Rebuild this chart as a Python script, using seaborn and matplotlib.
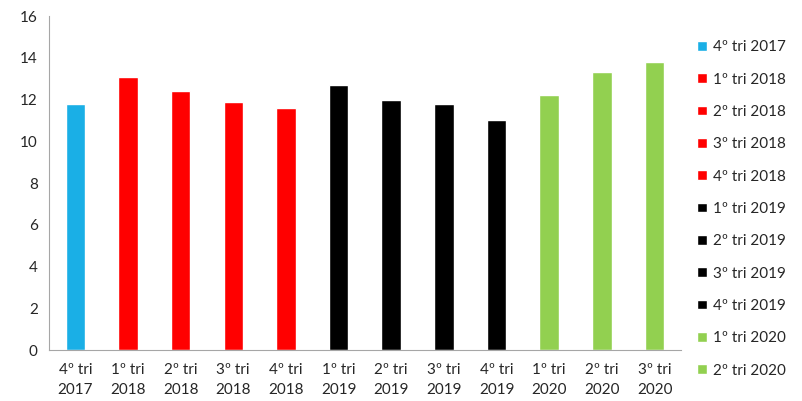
import matplotlib
matplotlib.use('Agg')
import matplotlib.pyplot as plt
from matplotlib.patches import Patch
import seaborn as sns
import numpy as np

quarters = ['4º tri 2017', '1º tri 2018', '2º tri 2018', '3º tri 2018', '4º tri 2018',
            '1º tri 2019', '2º tri 2019', '3º tri 2019', '4º tri 2019',
            '1º tri 2020', '2º tri 2020', '3º tri 2020']
values = [11.8, 13.1, 12.4, 11.9, 11.6, 12.7, 12.0, 11.8, 11.0, 12.2, 13.3, 13.8]
colors = ['#1AAFE6'] + ['#FF0000'] * 4 + ['#000000'] * 4 + ['#92D050'] * 3
tick_labels = [q.replace(' 20', '\n20') for q in quarters]

sns.set_style('white')
plt.rcParams['font.family'] = ['Lato', 'DejaVu Sans']

fig = plt.figure(figsize=(8.02, 4.01), dpi=100)
ax = fig.add_axes([0.061, 0.127, 0.788, 0.833])

sns.barplot(x=quarters, y=values, hue=quarters, palette=colors, legend=False,
            width=0.37, saturation=1, ax=ax)

ax.set_ylim(0, 16)
ax.set_yticks(range(0, 17, 2))
ax.set_xlim(-0.5, len(quarters) - 0.5)
ax.set_xticks(range(len(quarters)))
ax.set_xticklabels(tick_labels)
ax.set_xticks(np.arange(-0.5, len(quarters), 1), minor=True)
ax.tick_params(axis='x', which='major', length=0, labelsize=11, pad=9)
ax.tick_params(axis='x', which='minor', length=4, color='#A6A6A6', width=0.8)
ax.tick_params(axis='y', length=4, color='#A6A6A6', width=0.8, labelsize=11, pad=4)
for lab in ax.get_xticklabels():
    lab.set_linespacing(1.6)

sns.despine(ax=ax)
for s in ['left', 'bottom']:
    ax.spines[s].set_color('#A6A6A6')
    ax.spines[s].set_linewidth(0.8)

handles = [Patch(facecolor=c, label=q) for q, c in zip(quarters[:11], colors[:11])]
fig.legend(handles=handles, loc='upper left', bbox_to_anchor=(0.862, 0.915),
           frameon=False, fontsize=11, handlelength=0.6, handleheight=0.6,
           handletextpad=0.4, labelspacing=1.2, borderaxespad=0)

fig.savefig('out.png', dpi=100)
